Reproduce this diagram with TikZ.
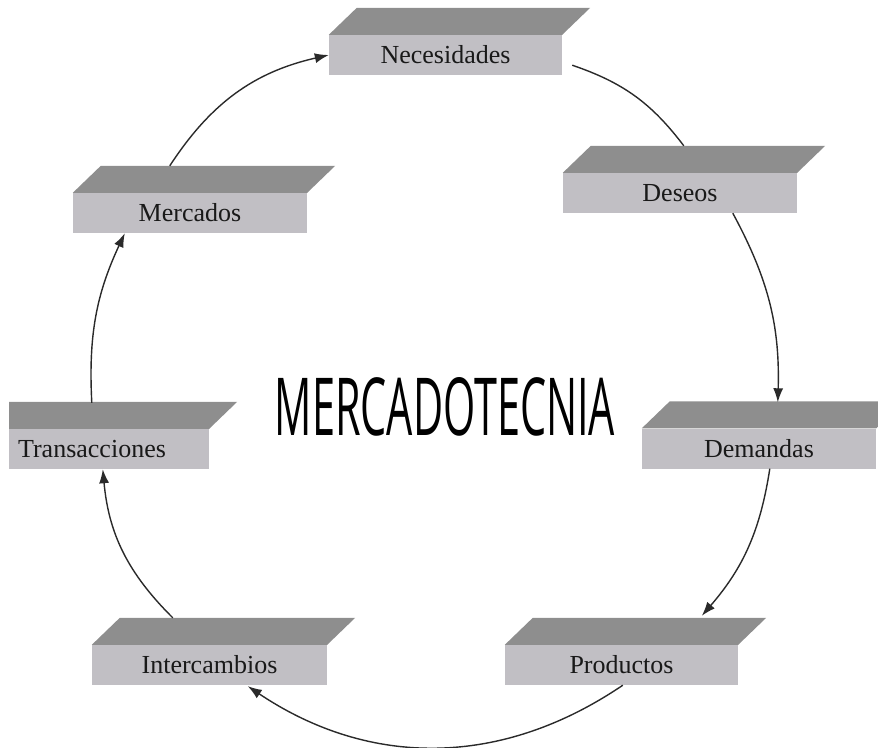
\documentclass[tikz,border=0pt]{standalone}
\usepackage{fontspec}
\setmainfont{Liberation Serif}
\newfontfamily\bigsans{Open Sans}
\usetikzlibrary{arrows.meta}
\definecolor{topgray}{HTML}{8E8E8E}
\definecolor{frontgray}{HTML}{C1BFC4}
\definecolor{linegray}{HTML}{2A2A2A}
\newcommand\topface[1]{\fill[topgray] (#1.north west) -- ([shift={(28,-27)}]#1.north west) -- ([shift={(28,-27)}]#1.north east) -- (#1.north east) -- cycle;}
\begin{document}
\begin{tikzpicture}[x=1pt,y=-1pt,
  box/.style={rectangle, fill=frontgray, minimum width=234pt, minimum height=40pt, inner sep=0pt,
    font=\fontsize{26}{29}\selectfont, text=black!90},
  conn/.style={draw=linegray, line width=1.4pt},
  tip/.style={-{Latex[length=14pt,width=10pt]}}]
\useasboundingbox (0,0) rectangle (878,747);
\clip (0,0) rectangle (878,747);
% boxes
\node[box, minimum width=233pt] (nec) at (445.5,55) {Necesidades};
\topface{nec}
\node[box] (des) at (680,193) {Deseos};
\topface{des}
\node[box] (mer) at (190,213) {Mercados};
\topface{mer}
\begin{scope}
\clip (9,0) rectangle (878,747);
\node[box] (tra) at (92,449) {Transacciones};
\topface{tra}
\end{scope}
\node[box] (dem) at (759,448.5) {Demandas};
\topface{dem}
\node[box, minimum width=235pt] (int) at (209.5,665) {Intercambios};
\topface{int}
\node[box, minimum width=233pt] (prod) at (621.5,665) {Productos};
\topface{prod}
% title
\node (title) at (445,407) {\resizebox{340pt}{58pt}{\bigsans MERCADOTECNIA}};
% connectors
\draw[conn,tip] ([shift={(97,-27)}]mer.north west) to[bend left=22] (nec.west);
\draw[conn] ([shift={(10,-10)}]nec.south east) to[bend left=17] ([shift={(121,-27)}]des.north west);
\draw[conn,tip] ([shift={(170,0)}]des.south west) to[bend left=15] ([shift={(136,-26)}]dem.north west);
\draw[conn,tip] ([shift={(128,0)}]dem.south west) to[bend left=16] ([shift={(197,-29)}]prod.north west);
\draw[conn,tip] ([shift={(118,0)}]prod.south west) to[bend left=34] ([shift={(156,1)}]int.south west);
\draw[conn,tip] ([shift={(81,-27)}]int.north west) to[bend left=20] ([shift={(128,0)}]tra.south west);
\draw[conn,tip] ([shift={(117,-26)}]tra.north west) to[bend left=14] ([shift={(52,0)}]mer.south west);
\end{tikzpicture}
\end{document}
